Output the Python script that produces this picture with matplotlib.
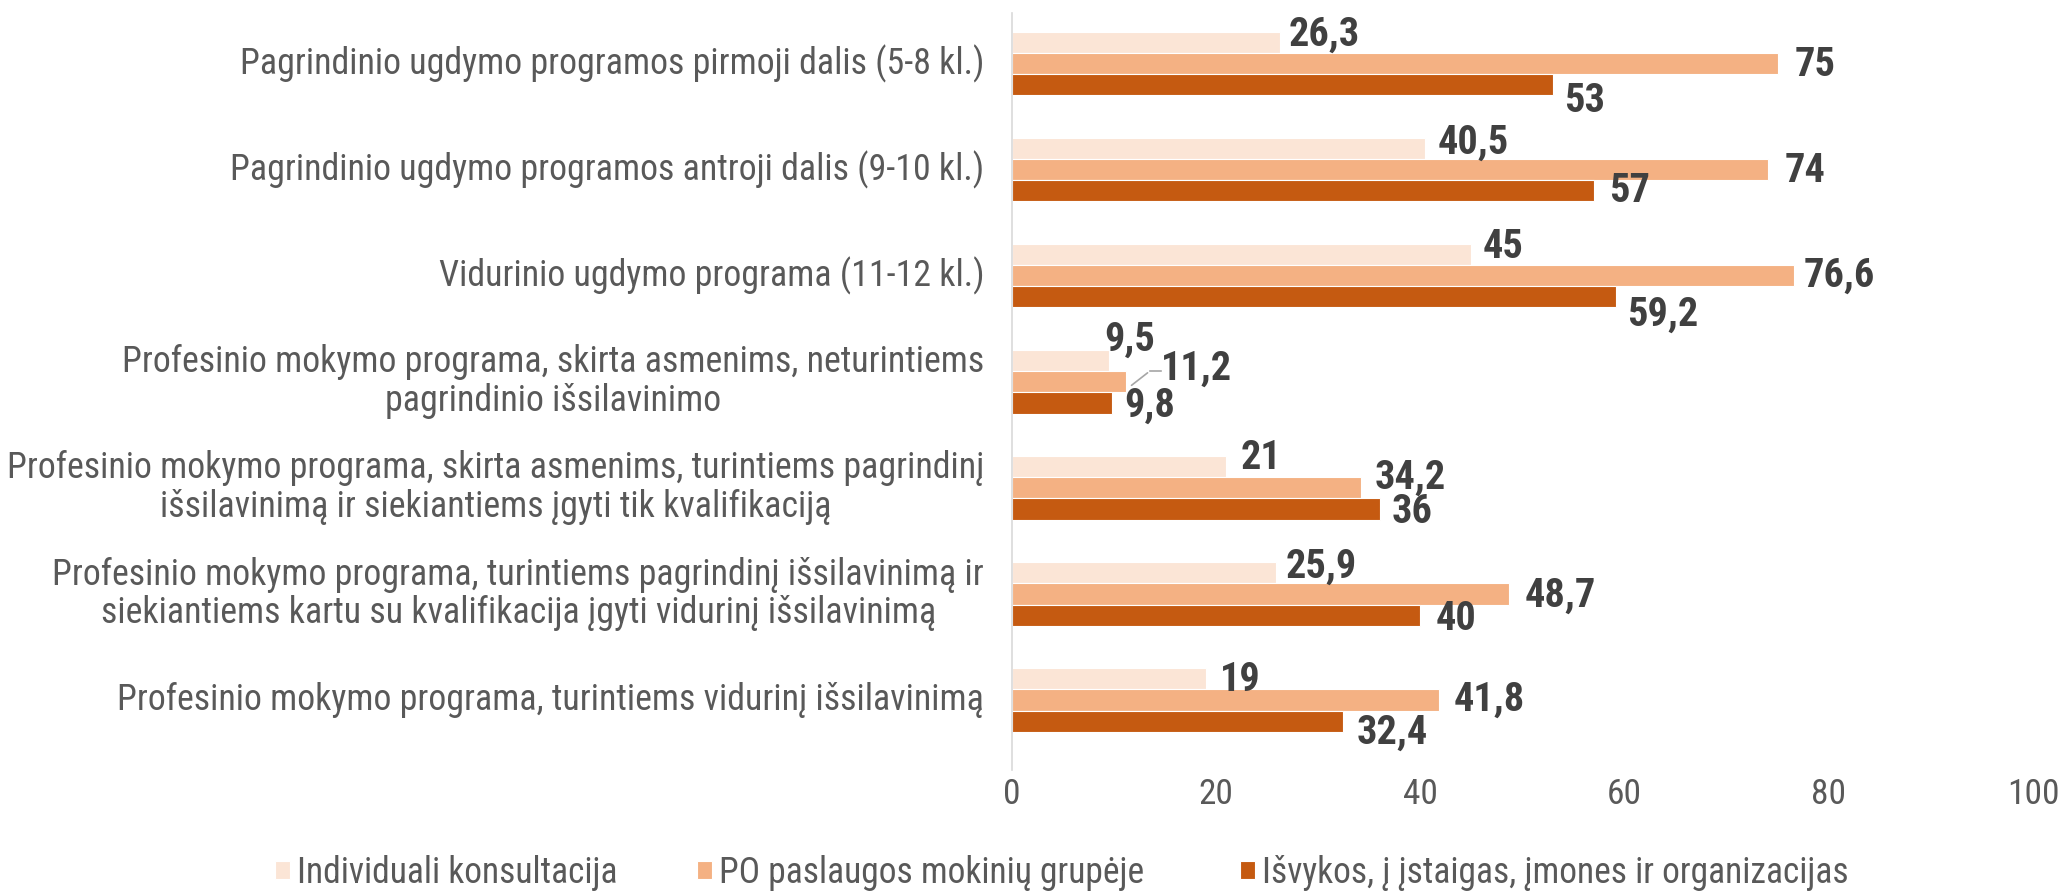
import numpy as np
import matplotlib
matplotlib.use("Agg")
import matplotlib.pyplot as plt

# duomenys
kategorijos = [
    "Pagrindinio ugdymo programos pirmoji dalis (5-8 kl.)",
    "Pagrindinio ugdymo programos antroji dalis (9-10 kl.)",
    "Vidurinio ugdymo programa (11-12 kl.)",
    "Profesinio mokymo programa, skirta asmenims, neturintiems\npagrindinio išsilavinimo",
    "Profesinio mokymo programa, skirta asmenims, turintiems pagrindinį\nišsilavinimą ir siekiantiems įgyti tik kvalifikaciją",
    "Profesinio mokymo programa, turintiems pagrindinį išsilavinimą ir\nsiekiantiems kartu su kvalifikacija įgyti vidurinį išsilavinimą",
    "Profesinio mokymo programa, turintiems vidurinį išsilavinimą",
]
serijos = ["Individuali konsultacija", "PO paslaugos mokinių grupėje",
           "Išvykos, į įstaigas, įmones ir organizacijas"]
individuali = [26.3, 40.5, 45, 9.5, 21, 25.9, 19]
po_grupeje = [75, 74, 76.6, 11.2, 34.2, 48.7, 41.8]
isvykos = [53, 57, 59.2, 9.8, 36, 40, 32.4]
x_ticks = [0, 20, 40, 60, 80, 100]

spalvos = ["#FBE5D6", "#F4B183", "#C55A11"]

# etikečių poslinkiai (taškais): dx, dy (teigiamas = žemyn)
poslinkiai = [
    [(6, -5), (12, 1), (8, 12)],
    [(9, -4), (12, 1), (11, 0)],
    [(8, -5), (7, 0), (8, 13)],
    [(-3, -15), (25, -9), (9, 2)],
    [(10, -6), (10, -7), (9, 2)],
    [(7, -4), (11, 1), (11, 3)],
    [(10, 1), (11, 0), (10, 8)],
]

FONT = ["Roboto Condensed", "Liberation Sans", "DejaVu Sans"]

fig = plt.figure(figsize=(20.63, 8.91), dpi=100)
ax = fig.add_axes([0.4905, 0.136, 0.4950, 0.849])

y = np.arange(len(kategorijos))
h = 0.2
duomenys = [individuali, po_grupeje, isvykos]
bars = []
for i, (vals, sp, pav) in enumerate(zip(duomenys, spalvos, serijos)):
    b = ax.barh(y + (i - 1) * h, vals, height=h, color=sp, edgecolor="white",
                linewidth=0.8, label=pav)
    bars.append(b)

for gi in range(len(kategorijos)):
    for si, vals in enumerate(duomenys):
        v = vals[gi]
        dx, dy = poslinkiai[gi][si]
        txt = f"{v:g}".replace(".", ",")
        ax.annotate(txt, (v, y[gi] + (si - 1) * h), xytext=(dx, -dy),
                    textcoords="offset points", ha="left", va="center",
                    fontsize=29, fontweight="bold", color="#404040", family=FONT)

# leader line for 11,2
gi = 3
v = po_grupeje[gi]
ax.annotate("", (v + 0.3, y[gi] + 0.05), xytext=(v + 2.3, y[gi] - 0.1),
            textcoords="data",
            arrowprops=dict(arrowstyle="-", color="#A6A6A6", lw=1.2))
ax.plot([v + 2.3, v + 3.4], [y[gi] - 0.1, y[gi] - 0.1], color="#A6A6A6", lw=1.2)

ax.set_xlim(0, 100)
ax.set_ylim(6.657, -0.471)
ax.set_xticks(x_ticks)
ax.set_xticklabels([str(t) for t in x_ticks], family=FONT, fontsize=25.5, color="#595959")
ax.set_yticks(y)
ax.set_yticklabels(kategorijos, family=FONT, fontsize=25.8, color="#595959",
                   multialignment="center", linespacing=1.1, va="center")
ax.tick_params(axis="both", length=0)
ax.tick_params(axis="x", pad=6)
ax.tick_params(axis="y", pad=20)
for s in ["top", "right", "bottom"]:
    ax.spines[s].set_visible(False)
ax.spines["left"].set_color("#D9D9D9")
ax.spines["left"].set_linewidth(1.2)

leg_x = [0.1333, 0.338, 0.601]
for b, pav, lx in zip(bars, serijos, leg_x):
    fig.legend([b], [pav], loc="center left", bbox_to_anchor=(lx, 0.0205),
               frameon=False, handlelength=0.42, handleheight=0.42,
               handletextpad=0.2, borderpad=0, borderaxespad=0,
               prop={"family": FONT, "size": 25.6}, labelcolor="#595959")

fig.savefig("out.png", dpi=100)
